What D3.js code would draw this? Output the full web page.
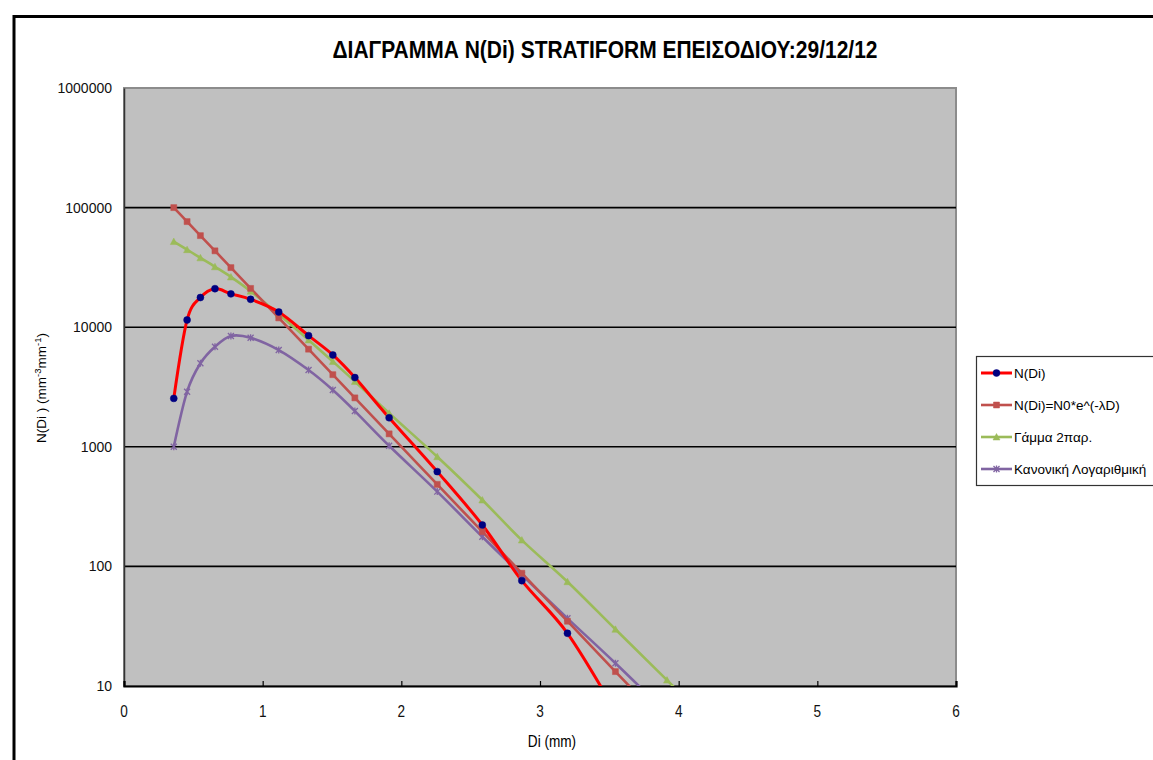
<!DOCTYPE html>
<html><head><meta charset="utf-8">
<script src="https://cdn.jsdelivr.net/npm/d3@7"></script>
<style>body{margin:0;background:#fff}svg{display:block}</style>
</head><body>
<svg id="c" width="1153" height="760"></svg>
<script>
const diam = [0.359,0.455,0.551,0.656,0.771,0.913,1.116,1.331,1.506,1.665,1.912,2.259,2.584,2.869,3.198,3.544,3.916,4.350];
const nDi = [2540,11500,17700,21000,19000,17100,13400,8500,5860,3790,1750,620,222,76,27.6,6.1];
const expFit = [100000,76400,58300,43500,31500,21100,11960,6550,4010,2565,1283,485,195,87.7,34.8,13.2,4.7];
const gammaFit = [52000,44500,38000,32000,26300,20000,12840,7830,5170,3520,1910,826,359,166,74.5,29.8,11.2,3.5];
const lognFit = [1000,2890,4990,6870,8450,8150,6440,4385,2985,1990,1020,422,177,84.7,36.8,15.5,5.9];
const seriesNames = ["N(Di)","N(Di)=N0*e^(-λD)","Γάμμα 2παρ.","Κανονική Λογαριθμική"];
const xTicks = [0,1,2,3,4,5,6];
const yTicks = [10,100,1000,10000,100000,1000000];
const title = "ΔΙΑΓΡΑΜΜΑ N(Di) STRATIFORM ΕΠΕΙΣΟΔΙΟΥ:29/12/12";

const svg = d3.select("#c");
const L=124,R=956,T=88,B=686;
const x = d3.scaleLinear().domain([0,6]).range([L,R]);
const y = d3.scaleLog().domain([10,1e6]).range([B,T]);
const FF = "'Liberation Sans',Arial,sans-serif";

// outer frame
svg.append("path").attr("d",`M14,760 V16.5 H1153`).attr("fill","none").attr("stroke","#000").attr("stroke-width",3);

// title (condensed bold)
svg.append("text").attr("x",605).attr("y",58).attr("text-anchor","middle")
  .attr("font-family",FF).attr("font-weight","bold")
  .attr("font-size",24).attr("textLength",545).attr("lengthAdjust","spacingAndGlyphs").text(title);

// plot area
svg.append("rect").attr("x",L).attr("y",T).attr("width",R-L).attr("height",B-T).attr("fill","#c0c0c0")
  .attr("stroke","#8c8c8c").attr("stroke-width",2);

// gridlines
svg.append("g").selectAll("line").data(yTicks.filter(v=>v>10&&v<1e6)).join("line")
  .attr("x1",L).attr("x2",R).attr("y1",d=>y(d)).attr("y2",d=>y(d)).attr("stroke","#000").attr("stroke-width",1.6);

// axes
const yAx = svg.append("g").attr("transform",`translate(${L},0)`)
  .call(d3.axisLeft(y).tickValues(yTicks).tickFormat(d3.format("d")).tickSize(0).tickPadding(12));
yAx.select(".domain").attr("stroke","#333").attr("stroke-width",1.5);
yAx.selectAll("text").attr("font-family",FF).attr("font-size",14).attr("fill","#111");

const xAx = svg.append("g").attr("transform",`translate(0,${B})`)
  .call(d3.axisTop(x).tickValues(xTicks).tickSize(5).tickFormat(""));
xAx.select(".domain").attr("stroke","#000").attr("stroke-width",2.2);
xAx.selectAll(".tick line").attr("stroke","#000").attr("stroke-width",1.2);
svg.append("g").selectAll("text").data(xTicks).join("text")
  .attr("transform",d=>`translate(${x(d)},717) scale(0.8,1)`).attr("text-anchor","middle")
  .attr("font-family",FF).attr("font-size",17).attr("fill","#111").text(d=>d);

// axis titles
svg.append("text").attr("transform","translate(552,747) scale(0.85,1)").attr("text-anchor","middle")
  .attr("font-family",FF).attr("font-size",16).text("Di (mm)");
const yt = svg.append("text").attr("transform","translate(46,388) rotate(-90)").attr("text-anchor","middle")
  .attr("font-family",FF).attr("font-size",13.5);
yt.append("tspan").text("N(Di ) (mm");
yt.append("tspan").attr("dy",-5).attr("font-size",9.5).text("-3");
yt.append("tspan").attr("dy",5).text("mm");
yt.append("tspan").attr("dy",-5).attr("font-size",9.5).text("-1");
yt.append("tspan").attr("dy",5).text(")");

// clip
svg.append("clipPath").attr("id","pc").append("rect").attr("x",L).attr("y",T).attr("width",R-L).attr("height",B-T);
const g = svg.append("g").attr("clip-path","url(#pc)");

const series = [
  {vals:nDi, color:"#ff0000", mcolor:"#000080", marker:"circle", w:3},
  {vals:expFit, color:"#c0504d", mcolor:"#c0504d", marker:"square", w:2.6},
  {vals:gammaFit, color:"#9bbb59", mcolor:"#9bbb59", marker:"triangle", w:2.6},
  {vals:lognFit, color:"#8064a2", mcolor:"#8064a2", marker:"star", w:2.6}
];
const line = d3.line().x(d=>x(d[0])).y(d=>y(d[1])).curve(d3.curveCardinal.tension(0));
function markerPath(type){
  if(type==="circle") return d3.symbol(d3.symbolCircle,38)();
  if(type==="square") return "M-3,-3H3V3H-3Z";
  if(type==="triangle") return "M0,-3.5L3.5,3L-3.5,3Z";
  return "M-3,-3L3,3M-3,3L3,-3M0,-3.5V3.5";
}
const order = [3,2,1,0];
order.forEach(i=>{
  const s = series[i];
  const pts = s.vals.map((v,k)=>[diam[k],v]);
  g.append("path").attr("d",line(pts)).attr("fill","none").attr("stroke",s.color).attr("stroke-width",s.w).attr("stroke-linejoin","round");
});
order.forEach(i=>{
  const s = series[i];
  const pts = s.vals.map((v,k)=>[diam[k],v]);
  g.append("g").selectAll("path").data(pts).join("path")
    .attr("transform",d=>`translate(${x(d[0])},${y(d[1])})`).attr("d",markerPath(s.marker))
    .attr("fill",s.marker==="star"?"none":s.mcolor).attr("stroke",s.mcolor).attr("stroke-width",s.marker==="star"?1.3:0.5);
});

// legend
const lg = svg.append("g");
lg.append("rect").attr("x",976.5).attr("y",356.5).attr("width",190).attr("height",129).attr("fill","#fff").attr("stroke","#333").attr("stroke-width",1.2);
series.forEach((s,i)=>{
  const cy = 373+i*32;
  lg.append("line").attr("x1",981).attr("x2",1012).attr("y1",cy).attr("y2",cy).attr("stroke",s.color).attr("stroke-width",s.w);
  lg.append("path").attr("transform",`translate(996.5,${cy})`).attr("d",markerPath(s.marker))
    .attr("fill",s.marker==="star"?"none":s.mcolor).attr("stroke",s.mcolor).attr("stroke-width",s.marker==="star"?1.3:0.5);
  lg.append("text").attr("x",1014).attr("y",cy+5).attr("font-family",FF).attr("font-size",13.5).text(seriesNames[i]);
});
</script>
</body></html>
